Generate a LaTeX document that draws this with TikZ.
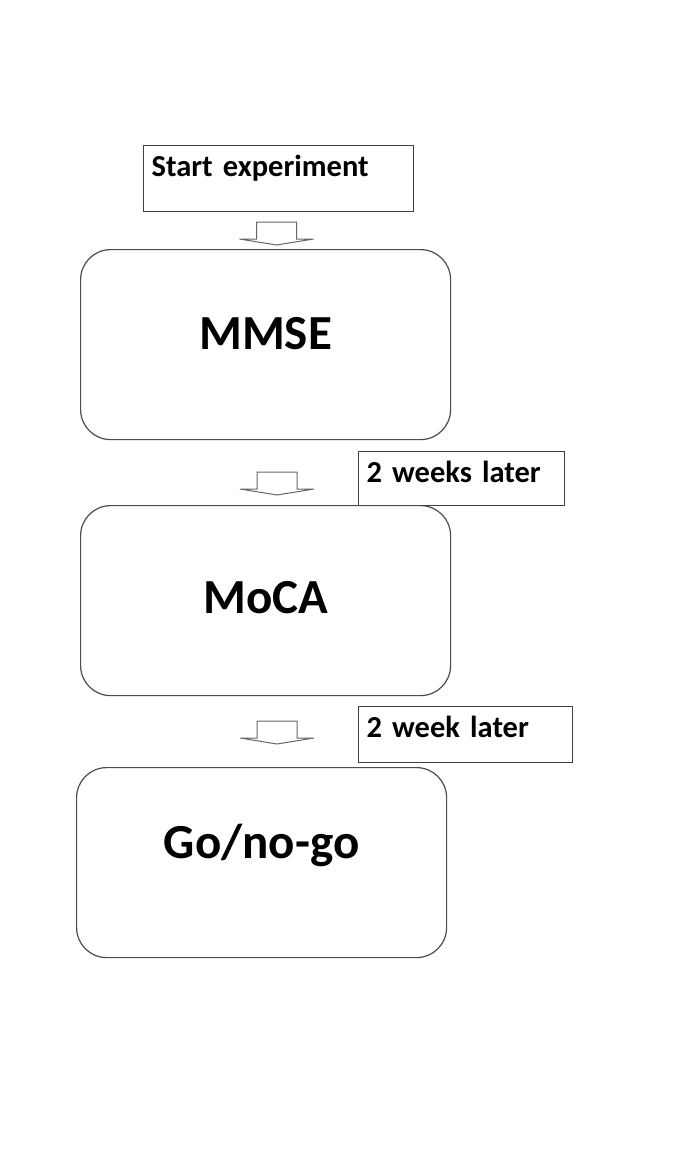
\documentclass[tikz,border=0pt]{standalone}
\usepackage{fontspec}
\setmainfont{Carlito}

\begin{document}
\begin{tikzpicture}[
  x=1pt, y=-1pt,
  tag/.style={rectangle, draw=black!75, line width=1.2pt, anchor=north west, inner xsep=8pt, inner ysep=0pt, align=left, text height=31pt, font=\fontsize{30.5}{36}\selectfont\bfseries},
  stage/.style={rectangle, draw=black!70, line width=1.2pt, rounded corners=30pt, anchor=north west, minimum width=370pt, minimum height=190pt, inner sep=0pt, font=\fontsize{49}{58}\selectfont\bfseries},
  flow/.style={draw=black!60, line width=1pt, fill=white}
]
\useasboundingbox (0,0) rectangle (685,1163);

\node[tag, text width=254pt, text depth=35pt] (start) at (143,145) {Start experiment};
\node[stage, text height=31pt, text depth=21pt] (mmse) at (80,249) {MMSE};
\node[tag, text width=190pt, text depth=23pt] (later1) at (358,451) {2 weeks later};
\node[stage, text height=31pt, text depth=5pt] (moca) at (80,505) {MoCA};
\node[tag, text width=198pt, text depth=25pt] (later2) at (358,706) {2 week later};
\node[stage, text height=31pt, text depth=39pt] (gonogo) at (76,767) {Go/no-go};

\coordinate (down1) at (276.5,222);
\coordinate (down2) at (277,472);
\coordinate (down3) at (277,721);

\foreach \a in {down1,down2,down3}
  \draw[flow] (\a) ++(-20,0) -- ++(40,0) -- ++(0,17) -- ++(17,0) -- ++(-37,6) -- ++(-37,-6) -- ++(17,0) -- cycle;

\end{tikzpicture}
\end{document}
